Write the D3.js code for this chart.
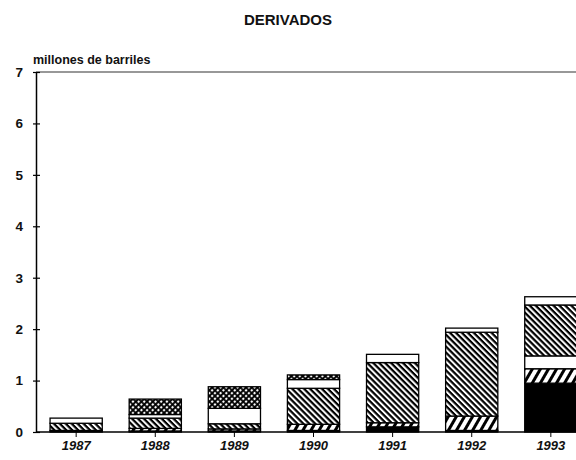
<!DOCTYPE html>
<html>
<head>
<meta charset="utf-8">
<script src="https://cdn.jsdelivr.net/npm/d3@7"></script>
<style>
  body { margin: 0; background: #fff; }
  text { font-family: "Liberation Sans", Arial, sans-serif; font-weight: bold; fill: #111; }
</style>
</head>
<body>
<div class="chart"></div>
<script>
// data (millones de barriles)
var years = ["1987", "1988", "1989", "1990", "1991", "1992", "1993"];
var negro   = [0.03, 0.02, 0.02, 0.03, 0.10, 0.03, 0.95];
var rayaA   = [0.00, 0.05, 0.04, 0.12, 0.08, 0.28, 0.28];
var blancoA = [0.00, 0.00, 0.00, 0.00, 0.00, 0.00, 0.25];
var rayaB   = [0.14, 0.20, 0.10, 0.70, 1.17, 1.63, 0.99];
var blancoB = [0.10, 0.07, 0.30, 0.17, 0.16, 0.08, 0.16];
var cuadros = [0.00, 0.30, 0.42, 0.09, 0.00, 0.00, 0.00];
var yTicks = [0, 1, 2, 3, 4, 5, 6, 7];

var keys = ["negro", "rayaA", "blancoA", "rayaB", "blancoB", "cuadros"];
var series = { negro: negro, rayaA: rayaA, blancoA: blancoA, rayaB: rayaB, blancoB: blancoB, cuadros: cuadros };
var fills = {
  negro: "#000",
  rayaA: "url(#rayaA)",
  blancoA: "#fff",
  rayaB: "url(#rayaB)",
  blancoB: "#fff",
  cuadros: "url(#cuadros)"
};

var svgWidth = 576;
var svgHeight = 460;

var svg = d3.select(".chart").append("svg")
  .attr("width", svgWidth)
  .attr("height", svgHeight);

// patterns
var defs = svg.append("defs");
var pA = defs.append("pattern").attr("id", "rayaA").attr("patternUnits", "userSpaceOnUse")
  .attr("width", 7).attr("height", 7).attr("patternTransform", "rotate(-60)");
pA.append("rect").attr("width", 7).attr("height", 7).attr("fill", "#fff");
pA.append("rect").attr("width", 7).attr("height", 3).attr("fill", "#000");

var pB = defs.append("pattern").attr("id", "rayaB").attr("patternUnits", "userSpaceOnUse")
  .attr("width", 4.2).attr("height", 4.2).attr("patternTransform", "rotate(45)");
pB.append("rect").attr("width", 4.2).attr("height", 4.2).attr("fill", "#fff");
pB.append("rect").attr("width", 4.2).attr("height", 2.2).attr("fill", "#000");

var pC = defs.append("pattern").attr("id", "cuadros").attr("patternUnits", "userSpaceOnUse")
  .attr("width", 4).attr("height", 4).attr("patternTransform", "rotate(45)");
pC.append("rect").attr("width", 4).attr("height", 4).attr("fill", "#000");
pC.append("circle").attr("cx", 2).attr("cy", 2).attr("r", 1.2).attr("fill", "#fff");

var y = d3.scaleLinear().domain([0, 7]).range([432, 72]);
var x = d3.scaleBand().domain(years).range([37, 590]).paddingInner(0.34).paddingOuter(0.165);

var table = years.map(function(yr, i) {
  var row = { year: yr };
  keys.forEach(function(k) { row[k] = series[k][i]; });
  return row;
});
var stacked = d3.stack().keys(keys)(table);

// title
svg.append("text").attr("x", 288).attr("y", 25).attr("text-anchor", "middle")
  .style("font-size", "15px").text("DERIVADOS");
svg.append("text").attr("x", 33).attr("y", 64)
  .style("font-size", "12.5px").text("millones de barriles");

// top frame line
svg.append("line").attr("x1", 36).attr("x2", 576).attr("y1", 72).attr("y2", 72)
  .attr("stroke", "#333").attr("stroke-width", 1.2);

// bars
var layer = svg.append("g").selectAll("g").data(stacked).enter().append("g")
  .attr("fill", function(d) { return fills[d.key]; });
layer.selectAll("rect")
  .data(function(d) { return d.filter(function(s) { return s[1] - s[0] > 0; }); })
  .enter().append("rect")
  .attr("x", function(d) { return x(d.data.year); })
  .attr("width", x.bandwidth())
  .attr("y", function(d) { return y(d[1]); })
  .attr("height", function(d) { return y(d[0]) - y(d[1]); })
  .attr("stroke", "#000").attr("stroke-width", 1.3);

// axes
var leftAxis = d3.axisLeft(y).tickValues(yTicks).tickFormat(d3.format("d"))
  .tickSizeInner(-4).tickSizeOuter(0).tickPadding(13);
var gy = svg.append("g").attr("transform", "translate(36,0)").call(leftAxis);
gy.selectAll("text").style("font-size", "13.5px");
gy.selectAll(".tick line").attr("x1", -3).attr("stroke-width", 1.2);
gy.select(".domain").attr("stroke-width", 1.5);

var bottomAxis = d3.axisBottom(x).tickSizeInner(5).tickSizeOuter(0).tickPadding(4);
var gx = svg.append("g").attr("transform", "translate(0,432)").call(bottomAxis);
gx.selectAll("text").style("font-size", "13px").style("font-style", "italic");
gx.select(".domain").attr("d", "M36,0H576").attr("stroke-width", 1.5);
</script>
</body>
</html>
